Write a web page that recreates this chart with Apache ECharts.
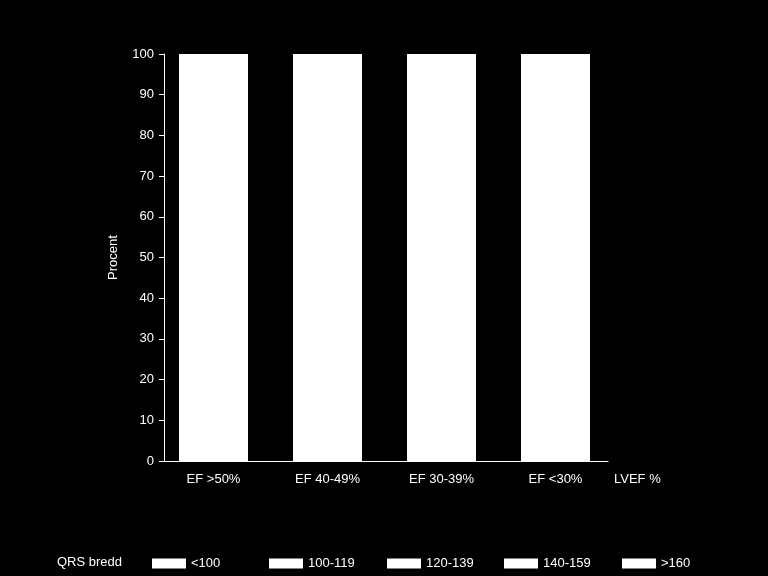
<!DOCTYPE html>
<html>
<head>
<meta charset="utf-8">
<script src="https://cdn.jsdelivr.net/npm/echarts@6/dist/echarts.min.js"></script>
<style>
  html, body { margin: 0; padding: 0; background: #000; }
  #chart { width: 768px; height: 576px; }
</style>
</head>
<body>
<div id="chart"></div>
<script>
// 数据
const categories = ['EF >50%', 'EF 40-49%', 'EF 30-39%', 'EF <30%'];
const qrsGroups = ['<100', '100-119', '120-139', '140-159', '>160'];
const qrsLt100 = [58, 45, 38, 30];
const qrs100_119 = [24, 25, 24, 22];
const qrs120_139 = [9, 13, 15, 18];
const qrs140_159 = [5, 9, 12, 15];
const qrsGt160 = [4, 8, 11, 15];
const yTicks = { min: 0, max: 100, interval: 10 };

(function () {
  const chart = echarts.init(document.getElementById('chart'));
  const font = 'Liberation Sans, Arial, sans-serif';
  const white = '#ffffff';
  const seriesData = [qrsLt100, qrs100_119, qrs120_139, qrs140_159, qrsGt160];
  // 图例位置（等距）
  const legendLeft = [152, 269, 387, 504, 622];

  let option = {
    backgroundColor: '#000',
    animation: false,
    textStyle: { fontFamily: font },
    title: {
      text: 'QRS bredd',
      left: 57,
      top: 556,
      padding: 0,
      textStyle: { color: white, fontSize: 13, fontWeight: 'normal', fontFamily: font }
    },
    legend: qrsGroups.map(function (name, i) {
      return {
        data: [name],
        left: legendLeft[i],
        top: 557,
        padding: 0,
        itemWidth: 34,
        itemHeight: 10,
        icon: 'rect',
        selectedMode: false,
        textStyle: { color: white, fontSize: 13, fontFamily: font }
      };
    }),
    // grid 0: axlar, grid 1: staplar
    grid: [
      { left: 164, right: 160, top: 54, bottom: 115 },
      { left: 156.5, right: 155.5, top: 54, bottom: 115 }
    ],
    xAxis: [
      {
        gridIndex: 0,
        type: 'category',
        data: categories,
        name: 'LVEF %',
        nameLocation: 'end',
        nameGap: 6,
        nameTextStyle: { color: white, fontSize: 13, verticalAlign: 'top', padding: [12, 0, 0, 0] },
        axisLine: { show: true, lineStyle: { color: white, width: 1 } },
        axisTick: { show: false },
        axisLabel: { show: false },
        splitLine: { show: false }
      },
      {
        gridIndex: 1,
        type: 'category',
        data: categories,
        axisLine: { show: false },
        axisTick: { show: false },
        axisLabel: { color: white, fontSize: 13, margin: 12 },
        splitLine: { show: false }
      }
    ],
    yAxis: [
      {
        gridIndex: 0,
        type: 'value',
        min: yTicks.min,
        max: yTicks.max,
        interval: yTicks.interval,
        name: 'Procent',
        nameLocation: 'middle',
        nameGap: 44,
        nameRotate: 90,
        nameTextStyle: { color: white, fontSize: 13 },
        axisLine: { show: true, lineStyle: { color: white, width: 1 } },
        axisTick: { show: true, length: 5, lineStyle: { color: white } },
        axisLabel: { color: white, fontSize: 13, margin: 10 },
        splitLine: { show: false }
      },
      {
        gridIndex: 1,
        type: 'value',
        min: yTicks.min,
        max: yTicks.max,
        show: false
      }
    ],
    series: qrsGroups.map(function (name, i) {
      return {
        name: name,
        type: 'bar',
        stack: 'qrs',
        xAxisIndex: 1,
        yAxisIndex: 1,
        barWidth: 69,
        data: seriesData[i],
        // 用白色阴影盖住分段间的接缝
        itemStyle: {
          color: white,
          shadowColor: white,
          shadowBlur: 0,
          shadowOffsetY: i === 0 ? 0 : 1
        }
      };
    })
  };

  chart.setOption(option);
  window.addEventListener('resize', function () {
    chart.resize();
  });
})();
</script>
</body>
</html>
